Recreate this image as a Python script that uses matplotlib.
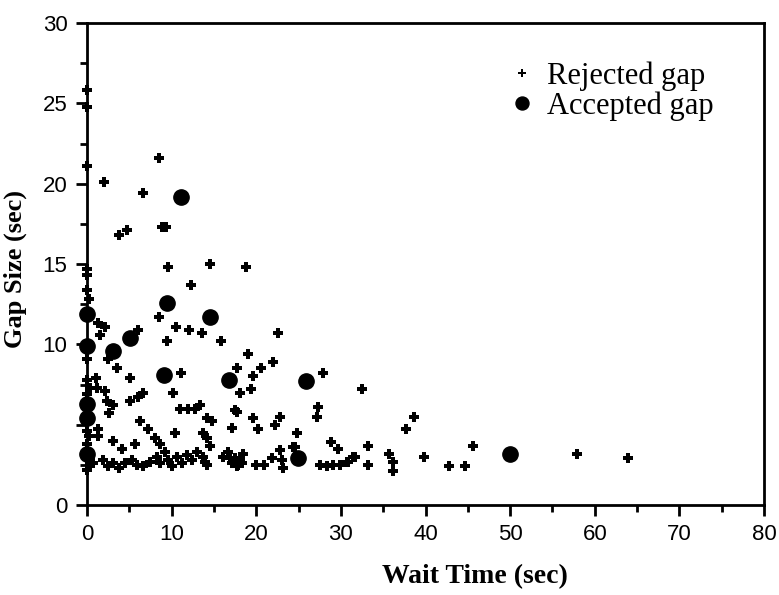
import numpy as np
import matplotlib.pyplot as plt
from matplotlib.ticker import MultipleLocator

# rejected gaps (wait time, gap size)
rej_wait = [0, 0, 0, 0, 0, 0, 0.2, 0, 0, 0.3, 0, 0, 0.2, 0, 0.3, 0,
            8.5, 2.0, 6.6, 8.9, 9.3, 3.8, 4.7, 9.6, 14.5, 18.8, 12.3,
            1.3, 2.1, 1.5, 6.0, 8.5, 10.5, 12.1, 13.6, 9.5, 15.8, 22.6,
            2.5, 3.5, 5.1, 1.1, 11.1, 19.0, 17.7, 20.6, 22.0, 19.6, 27.9,
            19.4, 18.1, 32.5, 27.3, 27.2, 19.6, 22.8, 22.2, 20.2, 24.8, 38.7, 37.7,
            28.8, 29.7, 33.2, 39.8, 35.7, 36.2, 36.2, 33.2, 31.7, 30.7, 29.9, 29.1,
            28.4, 27.5, 24.6, 22.8, 23.0, 23.2, 21.9, 20.9, 20.0, 18.3,
            42.8, 44.7, 45.6, 57.9, 63.9,
            1.2, 2.1, 2.4, 3.1, 2.6, 1.3, 1.3, 3.1, 4.1, 5.7, 6.3, 7.2, 5.1, 6.0, 6.6, 10.2,
            11.0, 11.9, 12.8, 13.4, 10.4, 8.0, 13.7, 14.2, 14.2, 14.8, 17.5, 17.1, 8.6,
            17.7, 14.5, 17.7,
            0.7, 1.9, 2.5, 3.1, 3.8, 4.5, 5.3, 5.9, 6.6, 7.4, 8.3, 8.6, 9.2, 9.6,
            10.0, 10.6, 11.2, 11.8, 12.4, 13.0, 13.7, 14.2, 16.1, 16.7, 17.5, 17.8,
            18.4, 13.9, 16.9, 17.1, 18.1, 24.3, 30.9, 31.4]
rej_gap = [25.8, 24.8, 21.1, 14.7, 14.3, 13.4, 12.8, 9.1, 7.8, 7.3, 6.9, 4.6, 4.3, 3.8, 2.6, 2.2,
           21.6, 20.1, 19.4, 17.3, 17.3, 16.8, 17.1, 14.8, 15.0, 14.8, 13.7,
           11.3, 11.1, 10.6, 10.9, 11.7, 11.1, 10.9, 10.7, 10.2, 10.2, 10.7,
           9.1, 8.5, 7.9, 7.9, 8.2, 9.4, 8.5, 8.5, 8.9, 8.0, 8.2,
           7.2, 7.0, 7.2, 6.1, 5.5, 5.4, 5.5, 5.0, 4.7, 4.5, 5.5, 4.7,
           3.9, 3.5, 3.7, 3.0, 3.2, 2.7, 2.1, 2.5, 3.0, 2.7, 2.5, 2.5,
           2.4, 2.5, 3.6, 3.4, 2.8, 2.3, 2.9, 2.5, 2.5, 2.6,
           2.4, 2.4, 3.7, 3.2, 2.9,
           7.3, 7.1, 6.5, 6.2, 5.7, 4.7, 4.3, 4.0, 3.5, 3.8, 5.2, 4.7, 6.5, 6.7, 7.0, 7.0,
           6.0, 6.0, 6.0, 6.2, 4.5, 4.2, 4.5, 4.2, 5.4, 5.2, 5.9, 4.8, 3.8,
           5.8, 3.7, 2.4,
           2.6, 2.8, 2.4, 2.6, 2.3, 2.6, 2.8, 2.5, 2.4, 2.7, 3.0, 2.6, 3.3, 2.8,
           2.4, 3.0, 2.6, 3.1, 2.8, 3.3, 3.0, 2.5, 3.0, 3.3, 2.9, 2.5,
           3.2, 2.7, 2.9, 2.6, 2.8, 3.6, 2.7, 3.0]

# accepted gaps
acc_wait = [11.1, 9.5, 14.5, 0, 5.1, 0, 3.1, 9.1, 16.8, 25.9, 0, 0, 0, 24.9, 50.0]
acc_gap = [19.2, 12.6, 11.7, 11.9, 10.4, 9.9, 9.6, 8.1, 7.8, 7.7, 6.3, 5.4, 3.2, 2.9, 3.2]

serif = ['Liberation Serif', 'DejaVu Serif']
sans = ['Liberation Sans', 'DejaVu Sans']

fig = plt.figure(figsize=(7.79, 5.95), dpi=100)
ax = fig.add_axes([87/779, 90/595, 677/779, 482/595])

ax.plot(rej_wait, rej_gap, linestyle='none', marker='P', markersize=7.5, color='black',
        markeredgewidth=0, label='Rejected gap', clip_on=False)
ax.plot(acc_wait, acc_gap, linestyle='none', marker='o', markersize=11, color='black',
        label='Accepted gap', clip_on=False)

ax.set_xlim(0, 80)
ax.set_ylim(0, 30)
ax.xaxis.set_major_locator(MultipleLocator(10))
ax.xaxis.set_minor_locator(MultipleLocator(5))
ax.yaxis.set_minor_locator(MultipleLocator(2.5))
ax.set_yticks([0, 5, 10, 15, 20, 25, 30])
ax.set_yticklabels(['0', '', '10', '15', '20', '25', '30'])
ax.tick_params(which='major', length=8, width=2, direction='out', labelsize=16, pad=6)
ax.tick_params(which='minor', length=5, width=2, direction='out')
for lab in ax.get_xticklabels() + ax.get_yticklabels():
    lab.set_family(sans)

for axis in ['top', 'bottom', 'left', 'right']:
    ax.spines[axis].set_linewidth(2)

ax.set_xlabel('Wait Time (sec)', fontsize=20, fontweight='bold', family=serif)
ax.xaxis.set_label_coords(0.573, -0.122)
ax.set_ylabel('Gap Size (sec)', fontsize=19, fontweight='bold', family=serif)
ax.yaxis.set_label_coords(-0.088, 0.49)

leg = ax.legend(loc='upper right', bbox_to_anchor=(0.925, 0.92), frameon=False,
                prop={'family': serif, 'size': 22}, handletextpad=0.25, labelspacing=0.0,
                borderaxespad=0, borderpad=0, handlelength=1.1, markerscale=0.85)

fig.savefig('out.png', dpi=100)
